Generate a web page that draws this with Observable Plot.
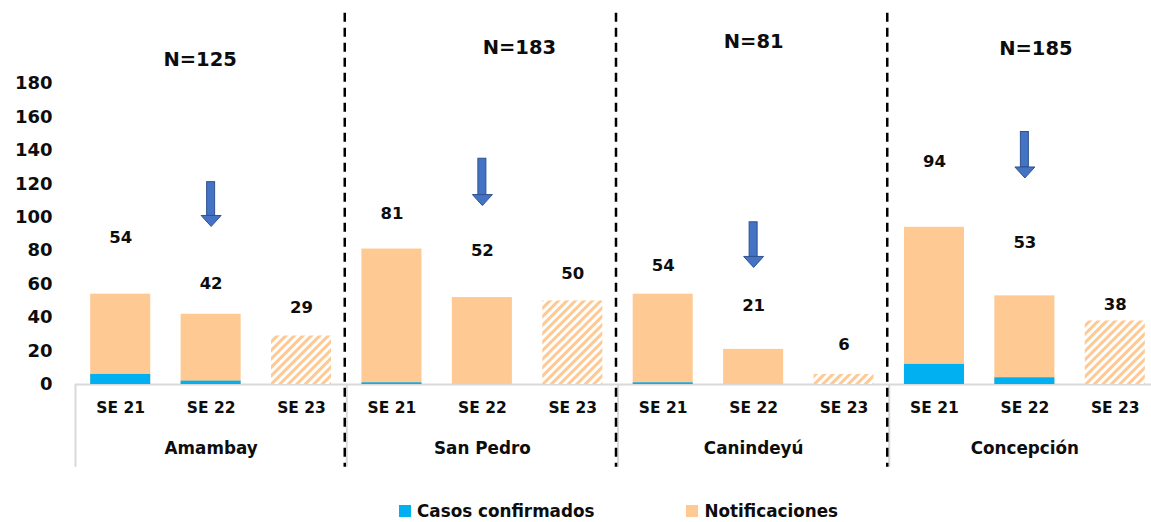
<!DOCTYPE html>
<html>
<head>
<meta charset="utf-8">
<script src="https://cdn.jsdelivr.net/npm/d3@7"></script>
<script src="https://cdn.jsdelivr.net/npm/@observablehq/plot@0.6"></script>
<style>
  html, body { margin: 0; padding: 0; background: #fff; overflow: hidden; }
  body { font-family: "DejaVu Sans", sans-serif; width: 1151px; }
  #legend { height: 32px; display: flex; align-items: center; padding-left: 399px; box-sizing: border-box; padding-top: 10px; }
  .item { display: flex; align-items: center; font-weight: bold; font-size: 16.8px; color: #0d0d0d; }
  .sw { width: 12px; height: 12px; margin-right: 6px; }
</style>
</head>
<body>
<div id="chart"></div>
<div id="legend"></div>
<script>
// ---- data ----
const regions = ["Amambay", "San Pedro", "Canindeyú", "Concepción"];
const weeks = ["SE 21", "SE 22", "SE 23"];
const notificaciones = [[54, 42, 29], [81, 52, 50], [54, 21, 6], [94, 53, 38]];
const confirmados = [[6, 2, 0], [1, 0, 0], [1, 0, 0], [12, 4, 0]];
const totalN = [125, 183, 81, 185];
// annotation anchors (in data units of the y axis)
const labelAt = [[88, 60, 46], [102, 80, 66], [71, 47, 24], [133, 85, 48]];
const arrowTop = [121, 135, 97, 151];
const arrowTip = [94.5, 107, 70, 123.5];
const nLabelAt = [194, 201.5, 205, 201];
const yTicks = [0, 20, 40, 60, 80, 100, 120, 140, 160, 180];
const seriesNames = ["Casos confirmados", "Notificaciones"];
const seriesColors = ["#00B0F0", "#FFC993"];

// ---- derived tables ----
const keyOf = (r, w) => r + "|" + w;
const rows = regions.flatMap((r, i) => weeks.map((w, j) => ({
  region: r, week: w, key: keyOf(r, w),
  notif: notificaciones[i][j], conf: confirmados[i][j],
  labelY: labelAt[i][j], partial: j === weeks.length - 1
})));
const keys = rows.map(d => d.key);
const arrows = regions.map((r, i) => ({key: keyOf(r, weeks[1]), top: arrowTop[i], tip: arrowTip[i]}));
const nRows = regions.map((r, i) => ({key: keyOf(r, weeks[1]), y: nLabelAt[i], text: "N=" + totalN[i]}));

// ---- layout ----
const W = 1151, H = 490, mL = 75, mR = -9, mT = 83, mB = 106;
const pIn = 0.336, pOut = 0.168;
const step = (W - mL - mR) / (keys.length - pIn + 2 * pOut);
const bw = step * (1 - pIn);
const pxPerUnit = (H - mT - mB) / 180;
const shaftW = 8, headH = 11, headHalf = 10;
const headUnits = headH / pxPerUnit;
const nShift = [-11, 37, 0, 11];

const headSymbol = {
  draw(ctx) {
    ctx.moveTo(0, 0);
    ctx.lineTo(-headHalf, -headH);
    ctx.lineTo(headHalf, -headH);
    ctx.closePath();
  }
};

const defsMark = () => {
  const g = d3.create("svg:g");
  const p = g.append("defs").append("pattern")
    .attr("id", "hatch").attr("patternUnits", "userSpaceOnUse")
    .attr("width", 6).attr("height", 6).attr("patternTransform", "rotate(45)");
  p.append("rect").attr("width", 6).attr("height", 6).attr("fill", "#fff");
  p.append("rect").attr("width", 3).attr("height", 6).attr("fill", seriesColors[1]);
  return g.node();
};

const bold = {fontWeight: "bold", fill: "#0d0d0d"};

const chart = Plot.plot({
  width: W, height: H,
  marginLeft: mL, marginRight: mR, marginTop: mT, marginBottom: mB,
  style: {fontFamily: "'DejaVu Sans', sans-serif", background: "#fff", overflow: "hidden"},
  x: {type: "band", domain: keys, paddingInner: pIn, paddingOuter: pOut, round: false, axis: null},
  y: {domain: [0, 180], axis: null},
  marks: [
    defsMark,
    // y tick labels
    Plot.text(yTicks, {y: d => d, text: d => String(d), frameAnchor: "left", dx: -23, textAnchor: "end", fontSize: 18, ...bold}),
    // baseline and category frame
    Plot.ruleY([0], {stroke: "#d9d9d9", strokeWidth: 2}),
    Plot.ruleX(regions.map(r => keyOf(r, weeks[0])), {x: d => d, y1: 0, y2: -49.5, stroke: "#d9d9d9", strokeWidth: 2, dx: -step / 2}),
    // bars
    Plot.barY(rows.filter(d => !d.partial), {x: "key", y: "notif", fill: seriesColors[1]}),
    Plot.barY(rows.filter(d => d.partial), {x: "key", y: "notif", fill: "url(#hatch)"}),
    Plot.barY(rows.filter(d => d.conf > 0), {x: "key", y: "conf", fill: seriesColors[0]}),
    // dashed separators
    Plot.ruleX(regions.slice(1).map(r => keyOf(r, weeks[0])), {x: d => d, y1: 222, y2: -49.5, stroke: "#000", strokeWidth: 2.5, strokeDasharray: "9,6", dx: -step / 2 - 2}),
    // value labels
    Plot.text(rows, {x: "key", y: "labelY", text: d => String(d.notif), fontSize: 16.5, ...bold}),
    // arrows
    Plot.barY(arrows, {x: "key", y1: "top", y2: d => d.tip + headUnits - 0.3, fill: "#4472C4", stroke: "#2F528F", strokeWidth: 1, insetLeft: (bw - shaftW) / 2, insetRight: (bw - shaftW) / 2}),
    Plot.dot(arrows, {x: "key", y: "tip", symbol: headSymbol, r: 5, fill: "#4472C4", stroke: "#2F528F", strokeWidth: 1}),
    // N labels
    ...nRows.map((d, i) => Plot.text([d], {x: "key", y: "y", text: "text", dx: nShift[i], fontSize: 19.5, ...bold})),
    // category axis labels
    Plot.text(rows, {x: "key", text: "week", frameAnchor: "bottom", dy: 28, fontSize: 15.5, ...bold}),
    Plot.text(regions, {x: r => keyOf(r, weeks[1]), text: d => d, frameAnchor: "bottom", dy: 69, fontSize: 16.8, ...bold})
  ]
});
document.getElementById("chart").appendChild(chart);

// legend
const leg = document.getElementById("legend");
seriesNames.forEach((name, i) => {
  const it = document.createElement("div");
  it.className = "item";
  if (i > 0) it.style.marginLeft = "92px";
  const sw = document.createElement("div");
  sw.className = "sw";
  sw.style.background = seriesColors[i];
  it.appendChild(sw);
  it.appendChild(document.createTextNode(name));
  leg.appendChild(it);
});
</script>
</body>
</html>
